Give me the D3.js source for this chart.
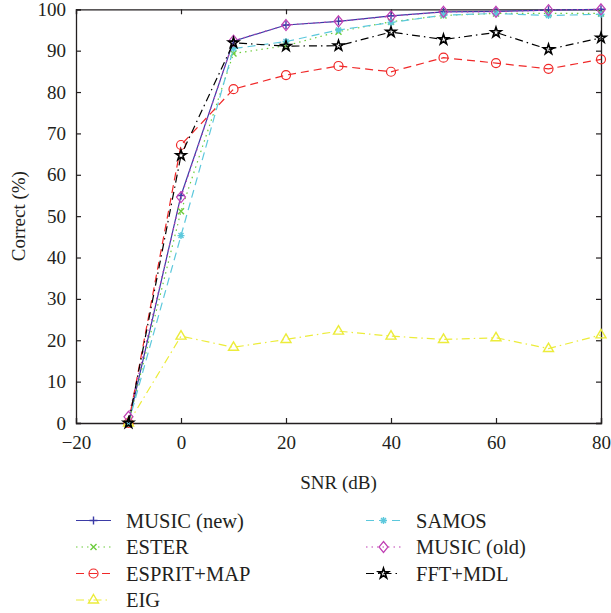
<!DOCTYPE html>
<html><head><meta charset="utf-8">
<script src="https://cdn.jsdelivr.net/npm/d3@7"></script>
<style>body{margin:0;background:#fff}svg{display:block}text{font-family:"Liberation Serif","DejaVu Serif",serif;fill:#231f20}</style>
</head><body>
<svg id="c" width="611" height="613"></svg>
<script>
const snr = [-10, 0, 10, 20, 30, 40, 50, 60, 70, 80];
const musicNew = [0, 55, 92.3, 96.2, 97.1, 98.4, 99.4, 99.5, 99.8, 100];
const ester = [0, 51.2, 89.3, 91.2, 94.6, 97, 98.5, 99, 99, 99];
const espritMap = [0, 67.2, 80.7, 84.1, 86.3, 84.9, 88.3, 87, 85.6, 87.9];
const eig = [0, 21, 18.3, 20.2, 22.2, 21, 20.2, 20.6, 18, 21.3];
const samos = [0, 45.3, 90.5, 92.2, 95, 96.8, 98.6, 99, 98.5, 98.8];
const musicOld = [1.5, 54.6, 92.4, 96.2, 97.1, 98.3, 99.4, 99.4, 99.8, 100];
const fftMdl = [0, 64.7, 91.9, 91.1, 91.2, 94.5, 92.7, 94.4, 90.3, 93.1];
const seriesNames = ["MUSIC (new)", "ESTER", "ESPRIT+MAP", "EIG", "SAMOS", "MUSIC (old)", "FFT+MDL"];
const xTicks = [-20, 0, 20, 40, 60, 80];
const yTicks = [0, 10, 20, 30, 40, 50, 60, 70, 80, 90, 100];

const series = [
  {name: seriesNames[0], values: musicNew, color: "#3b3ba6", dash: null, marker: "plus"},
  {name: seriesNames[1], values: ester, color: "#6ccc3c", dash: "1.5,4", marker: "x"},
  {name: seriesNames[2], values: espritMap, color: "#f02828", dash: "8,5", marker: "circle"},
  {name: seriesNames[3], values: eig, color: "#ecec3a", dash: "8,4,1.5,4", marker: "triangle"},
  {name: seriesNames[4], values: samos, color: "#5cc8dc", dash: "8,5", marker: "asterisk"},
  {name: seriesNames[5], values: musicOld, color: "#c040b4", dash: "1.5,4", marker: "diamond"},
  {name: seriesNames[6], values: fftMdl, color: "#000000", dash: "8,4,1.5,4", marker: "star"}
];

const svg = d3.select("#c");
const x = d3.scaleLinear().domain([-20, 80]).range([76, 601]);
const y = d3.scaleLinear().domain([0, 100]).range([423, 9.3]);

const fs = 19;
const gB = svg.append("g").attr("transform", `translate(0,${y(0)})`)
  .call(d3.axisBottom(x).tickValues(xTicks).tickSize(-5).tickPadding(13).tickFormat(d => d < 0 ? "\u2212" + Math.abs(d) : d));
const gL = svg.append("g").attr("transform", `translate(${x(-20)},0)`)
  .call(d3.axisLeft(y).tickValues(yTicks).tickSize(-5).tickPadding(10));
const gT = svg.append("g").attr("transform", `translate(0,${y(100)})`)
  .call(d3.axisTop(x).tickValues(xTicks).tickSize(-5).tickFormat(""));
const gR = svg.append("g").attr("transform", `translate(${x(80)},0)`)
  .call(d3.axisRight(y).tickValues(yTicks).tickSize(-5).tickFormat(""));
[gB, gL, gT, gR].forEach(g => {
  g.select(".domain").attr("stroke", "#231f20").attr("stroke-width", 1.3);
  g.selectAll(".tick line").attr("stroke", "#231f20").attr("stroke-width", 1.2);
  g.selectAll("text").attr("font-size", fs).attr("font-family", "Liberation Serif").attr("fill", "#231f20");
});

svg.append("text").attr("x", (x(-20) + x(80)) / 2).attr("y", 489).attr("text-anchor", "middle")
  .attr("font-size", fs).text("SNR (dB)");
svg.append("text").attr("transform", `translate(25,${(y(0) + y(100)) / 2}) rotate(-90)`).attr("text-anchor", "middle")
  .attr("font-size", fs).text("Correct (%)");

function drawMarker(g, type, color) {
  const sw = 1.2;
  if (type === "plus") g.append("path").attr("d", "M-4,0H4M0,-4V4").attr("stroke", color).attr("stroke-width", 1.4).attr("fill", "none");
  else if (type === "x") g.append("path").attr("d", "M-3,-3L3,3M-3,3L3,-3").attr("stroke", color).attr("stroke-width", 1.4).attr("fill", "none");
  else if (type === "circle") g.append("circle").attr("r", 4.5).attr("stroke", color).attr("stroke-width", sw).attr("fill", "none");
  else if (type === "triangle") g.append("path").attr("d", "M0,-5.5L5,3L-5,3Z").attr("stroke", color).attr("stroke-width", 1.4).attr("fill", "none");
  else if (type === "asterisk") g.append("path").attr("d", "M-3.5,0H3.5M0,-3.5V3.5M-2.5,-2.5L2.5,2.5M-2.5,2.5L2.5,-2.5").attr("stroke", color).attr("stroke-width", 1.4).attr("fill", "none");
  else if (type === "diamond") g.append("path").attr("d", "M0,-5.5L4.5,0L0,5.5L-4.5,0Z").attr("stroke", color).attr("stroke-width", sw).attr("fill", "none");
  else if (type === "star") g.append("path").attr("d", d3.symbol(d3.symbolStar, 32)()).attr("stroke", color).attr("stroke-width", 1.6).attr("fill", "none");
}

const line = d3.line().x((d, i) => x(snr[i])).y(d => y(d));
series.forEach(s => {
  const g = svg.append("g");
  g.append("path").datum(s.values).attr("d", line).attr("fill", "none").attr("stroke", s.color)
    .attr("stroke-width", 1.2).attr("stroke-dasharray", s.dash);
  s.values.forEach((v, i) => {
    const m = g.append("g").attr("transform", `translate(${x(snr[i])},${y(v)})`);
    drawMarker(m, s.marker, s.color);
  });
});

const legPos = [[76, 520.5], [76, 547], [76, 573.5], [76, 600], [366, 520.5], [366, 547], [366, 573.5]];
series.forEach((s, i) => {
  const [lx, ly] = legPos[i];
  const g = svg.append("g").attr("transform", `translate(${lx},${ly})`);
  g.append("line").attr("x1", 0).attr("x2", 35).attr("y1", 0).attr("y2", 0).attr("stroke", s.color)
    .attr("stroke-width", 1.2).attr("stroke-dasharray", s.dash);
  drawMarker(g.append("g").attr("transform", "translate(17.5,0)"), s.marker, s.color);
  g.append("text").attr("x", 50).attr("y", 7).attr("font-size", 20.5).text(s.name);
});
</script>
</body></html>
